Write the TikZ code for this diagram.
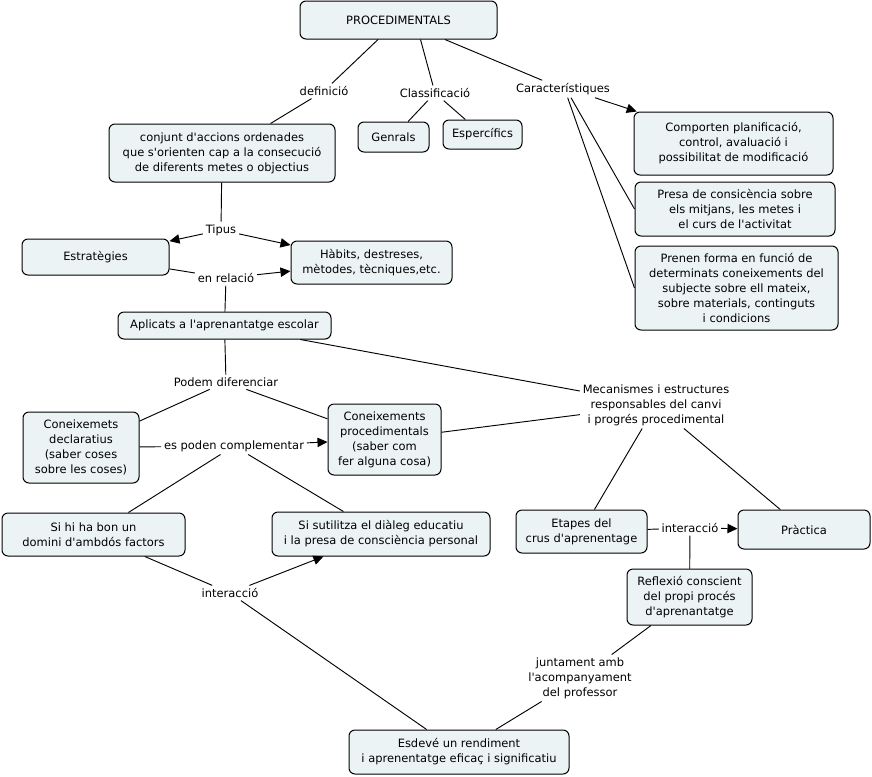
\documentclass[tikz,border=0pt]{standalone}
\usepackage{fontspec}
\setmainfont{DejaVu Sans}[Ligatures=TeXOff]
\usetikzlibrary{arrows.meta}
\definecolor{boxfill}{HTML}{ECF3F5}
\begin{document}
\begin{tikzpicture}[x=0.75pt,y=-0.75pt,
  font=\fontsize{8.6}{11.25}\selectfont,
  box/.style={draw, line width=0.75pt, rounded corners=4.5pt, fill=boxfill, align=center, inner sep=0pt},
  sz/.style 2 args={minimum width=#1*0.75pt, minimum height=#2*0.75pt},
  lbl/.style={align=center, inner sep=2pt},
  con/.style={line width=0.7pt},
  arr/.style={con, -{Triangle[length=7.5pt,width=7pt]}}]
\useasboundingbox (0,0) rectangle (872,776);
% boxes
\node[box, sz={197}{38}] (proc) at (398.5,20) {PROCEDIMENTALS};
\node[box, sz={226}{58}] (conj) at (222,153) {conjunt d'accions ordenades\\que s'orienten cap a la consecució\\de diferents metes o objectius};
\node[box, sz={71}{30}] (genr) at (393.5,137) {Genrals};
\node[box, sz={79}{29}] (esper) at (482.5,134.5) {Espercífics};
\node[box, sz={199}{63}] (comp) at (733.5,143.5) {Comporten planificació,\\control, avaluació i\\possibilitat de modificació};
\node[box, sz={200}{54}] (presa) at (735,209) {Presa de consicència sobre\\els mitjans, les metes i\\el curs de l'activitat};
\node[box, sz={203}{84}] (prenen) at (736.5,288) {Prenen forma en funció de\\determinats coneixements del\\subjecte sobre ell mateix,\\sobre materials, continguts\\i condicions};
\node[box, sz={147}{36}] (estr) at (95.5,257) {Estratègies};
\node[box, sz={161}{43}] (habits) at (371.5,262.5) {Hàbits, destreses,\\mètodes, tècniques,etc.};
\node[box, sz={213}{27}] (aplic) at (224.5,325.5) {Aplicats a l'aprenantatge escolar};
\node[box, sz={116}{71}] (decl) at (81,447.5) {Coneixemets\\declaratius\\(saber coses\\sobre les coses)};
\node[box, sz={113}{71}] (proced) at (384.5,439.5) {Coneixements\\procedimentals\\(saber com\\fer alguna cosa)};
\node[box, sz={183}{43}] (sihi) at (93.5,534.5) {Si hi ha bon un\\domini d'ambdós factors};
\node[box, sz={218}{44}] (sisut) at (381,534) {Si sutilitza el diàleg educatiu\\i la presa de consciència personal};
\node[box, sz={131}{43}] (etapes) at (581.5,531.5) {Etapes del\\crus d'aprenentage};
\node[box, sz={132}{39}] (pract) at (804,529.5) {Pràctica};
\node[box, sz={125}{56}] (refl) at (689.5,597) {Reflexió conscient\\del propi procés\\d'aprenantatge};
\node[box, sz={220}{44}] (esdev) at (459,752) {Esdevé un rendiment\\i aprenentatge eficaç i significatiu};
% labels
\node[lbl] (def) at (324,91) {definició};
\node[lbl] (clas) at (435,93) {Classificació};
\node[lbl] (car) at (563,89) {Característiques};
\node[lbl] (tipus) at (221,230) {Tipus};
\node[lbl] (enrel) at (226,278) {en relació};
\node[lbl] (podem) at (226,382) {Podem diferenciar};
\node[lbl] (espoden) at (234,446) {es poden complementar};
\node[lbl] (mecan) at (656,405) {Mecanismes i estructures\\responsables del canvi\\i progrés procedimental};
\node[lbl] (inter1) at (230,593) {interacció};
\node[lbl] (inter2) at (690,528) {interacció};
\node[lbl] (junt) at (580,678) {juntament amb\\l'acompanyament\\del professor};
% connectors
\draw[con] (proc) -- (def);
\draw[con] (def) -- (conj);
\draw[con] ([xshift=16.5pt]proc.south) -- (clas);
\draw[con] (clas) -- (genr);
\draw[con] (clas) -- (esper);
\draw[con] (proc) -- (car);
\draw[arr] ([xshift=24pt]car.south) -- (comp);
\draw[con] ([xshift=6pt]car.south) -- (presa.west);
\draw[con] ([xshift=3.5pt]car.south) -- (prenen.west);
\draw[con] (conj) -- (tipus);
\draw[arr] (tipus) -- (estr);
\draw[arr] (tipus) -- (habits);
\draw[con] (estr) -- (enrel);
\draw[arr] (enrel) -- (habits);
\draw[con] (aplic) -- (enrel);
\draw[con] (aplic) -- (podem);
\draw[con] (podem) -- (decl);
\draw[con] (podem) -- (proced);
\draw[con] (aplic) -- (mecan);
\draw[con] (proced) -- (mecan);
\draw[con] (decl) -- (espoden);
\draw[arr] (espoden) -- (proced);
\draw[con] (espoden) -- (sihi);
\draw[con] (espoden) -- (sisut);
\draw[con] (sihi) -- (inter1);
\draw[arr] (inter1) -- (sisut);
\draw[con] (inter1) -- (esdev);
\draw[con] (mecan) -- (etapes);
\draw[con] (mecan) -- (pract);
\draw[con] (etapes) -- (inter2);
\draw[arr] (inter2) -- (pract);
\draw[con] (refl) -- (inter2);
\draw[con] (refl) -- (junt);
\draw[con] (junt) -- (esdev);
\end{tikzpicture}
\end{document}
